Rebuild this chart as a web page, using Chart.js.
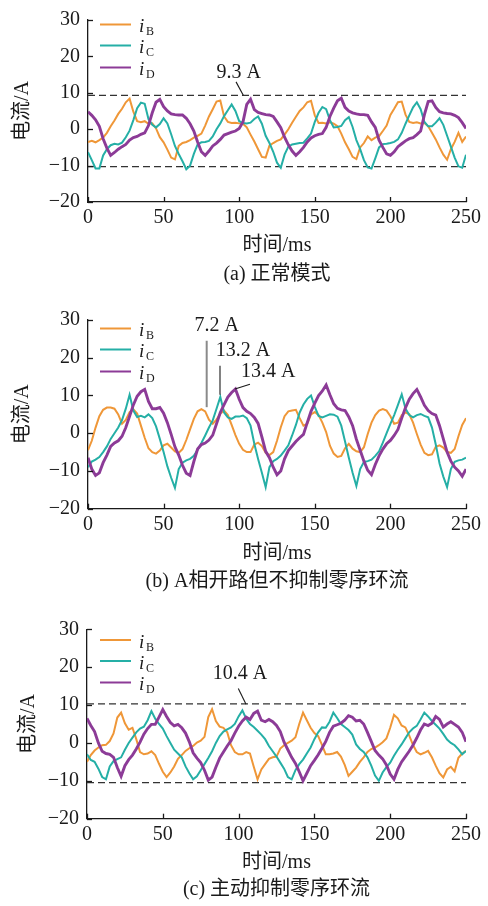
<!DOCTYPE html>
<html><head><meta charset="utf-8">
<script src="https://cdn.jsdelivr.net/npm/chart.js@4.4.1/dist/chart.umd.min.js"></script>
<style>
html,body{margin:0;padding:0;background:#fff;}
#wrap{position:relative;width:488px;height:906px;overflow:hidden;background:#fff;}
.pan{position:absolute;left:0;width:488px;}
canvas{display:block;}
</style></head><body>
<div id="wrap">
<div class="pan" style="top:0;height:300px"><canvas id="ca" width="488" height="300"></canvas></div>
<div class="pan" style="top:300px;height:300px"><canvas id="cb" width="488" height="300"></canvas></div>
<div class="pan" style="top:600px;height:306px"><canvas id="cc" width="488" height="306"></canvas></div>
</div>
<script>
// ---- sample times (ms) ----
const timeMs = [
 0,2.5,5,7.5,10,12.5,15,17.5,20,22.5,25,27.5,30,32.5,35,37.5,40,42.5,45,47.5,50,52.5,55,57.5,
 60,62.5,65,67.5,70,72.5,75,77.5,80,82.5,85,87.5,90,92.5,95,97.5,100,102.5,105,107.5,110,112.5,115,117.5,
 120,122.5,125,127.5,130,132.5,135,137.5,140,142.5,145,147.5,150,152.5,155,157.5,160,162.5,165,167.5,170,172.5,175,177.5,
 180,182.5,185,187.5,190,192.5,195,197.5,200,202.5,205,207.5,210,212.5,215,217.5,220,222.5,225,227.5,230,232.5,235,237.5,
 240,242.5,245,247.5,250];
const xTicks = [0,50,100,150,200,250];
const yTicks = [-20,-10,0,10,20,30];
const seriesLabels = ['B','C','D'];

// ---- (a) normal mode ----
const iB_a = [
 -3.5,-3.2,-3.6,-3.0,-2.3,-1.0,0.8,2.4,4.2,5.6,7.4,8.4,4.8,2.2,1.9,2.2,1.5,1.6,0.2,-2.2,-3.6,-5.6,-7.8,-8.3,
 -4.6,-3.8,-3.5,-3.0,-2.3,-1.8,-1.2,1.0,3.5,5.5,7.6,7.9,3.5,2.0,1.7,1.8,1.6,1.5,0.5,-1.5,-3.4,-5.5,-7.6,-7.8,
 -4.5,-3.8,-3.2,-2.8,-1.5,0.0,1.8,3.4,5.0,6.0,7.4,7.8,3.8,1.7,1.8,1.6,1.9,1.5,0.8,-1.2,-3.6,-5.5,-7.6,-8.2,
 -5.0,-3.8,-2.0,-3.0,-2.3,-1.9,-0.5,1.0,3.9,5.6,7.4,7.6,4.0,2.0,1.7,1.9,1.6,1.7,0.8,-1.0,-2.8,-5.0,-7.0,-8.4,
 -5.5,-3.5,-1.0,-3.5,-2.0];
const iC_a = [
 -6.3,-8.5,-10.8,-10.8,-7.2,-5.5,-4.4,-4.0,-4.2,-3.7,-2.2,-0.4,2.5,5.8,7.3,7.0,2.8,1.2,0.5,1.4,3.0,1.6,-1.4,-4.6,
 -6.8,-8.8,-11.0,-10.0,-6.8,-4.2,-3.6,-3.5,-3.2,-2.0,0.0,1.6,3.6,5.2,6.8,5.0,2.2,1.7,1.6,1.8,2.8,3.5,1.5,-1.8,
 -3.8,-6.2,-9.2,-10.6,-7.0,-4.8,-4.2,-4.0,-3.8,-3.7,-2.5,-1.2,2.0,4.5,6.1,5.5,2.5,0.5,0.6,0.9,2.5,3.3,0.6,-3.0,
 -5.5,-8.5,-10.5,-10.8,-8.0,-5.0,-4.1,-4.0,-3.8,-3.5,-2.8,-1.0,1.5,3.8,6.0,7.4,5.5,2.0,0.8,0.8,1.8,3.0,1.2,-1.8,
 -4.8,-7.8,-10.2,-10.6,-7.0];
const iD_a = [
 4.8,3.8,2.6,0.8,-2.6,-5.2,-7.2,-6.4,-5.5,-4.8,-4.2,-3.0,-2.3,-2.0,-1.4,-1.0,1.0,4.5,7.4,8.2,6.2,5.0,4.2,4.0,
 3.9,3.9,3.0,1.5,-0.5,-3.5,-6.2,-7.2,-6.0,-4.6,-3.8,-2.8,-1.6,-1.2,-0.8,-0.5,0.2,2.0,6.8,8.2,5.4,4.6,4.3,4.0,
 3.9,3.5,2.0,0.4,-2.2,-4.3,-6.0,-7.2,-6.2,-5.0,-3.5,-2.4,-1.8,-1.4,-1.2,0.5,3.5,5.8,7.8,8.5,6.0,5.0,4.5,4.2,
 4.0,4.0,3.8,2.0,0.5,-3.0,-5.0,-6.8,-7.2,-6.2,-4.8,-4.0,-3.2,-2.6,-2.3,-1.5,-0.5,4.0,7.6,7.8,6.0,4.8,4.5,4.3,
 4.2,3.8,3.2,1.8,0.2];

// ---- (b) A-phase open, no zero-sequence suppression ----
const iB_b = [
 -4.5,-2.0,1.5,4.5,6.2,6.8,6.8,6.5,5.0,2.5,3.5,5.6,6.3,5.2,2.0,-1.2,-4.0,-5.0,-5.4,-4.6,-3.2,-2.8,-3.8,-4.8,
 -5.2,-4.2,-1.8,1.0,3.8,5.8,6.4,5.8,3.6,2.5,3.6,5.2,6.0,4.8,2.2,-0.5,-2.8,-4.4,-5.0,-5.0,-3.0,-2.5,-3.4,-5.2,
 -5.8,-5.0,-2.0,1.6,4.5,5.8,6.0,6.2,4.0,2.0,2.5,5.0,5.6,4.8,2.8,0.3,-3.3,-5.4,-6.3,-6.0,-4.0,-2.8,-4.1,-4.8,
 -5.0,-3.7,-0.2,2.8,4.8,6.0,6.4,6.0,4.5,2.5,2.8,4.8,5.5,5.0,2.8,-0.2,-3.0,-5.2,-5.8,-5.6,-3.6,-3.2,-3.8,-5.0,
 -5.2,-4.2,-0.8,2.2,4.0];
const iC_b = [
 -9.0,-7.5,-7.0,-6.3,-5.0,-3.5,-1.5,0.0,1.5,3.5,6.5,10.2,6.0,4.3,4.6,4.2,5.0,4.0,1.8,-1.5,-5.0,-8.8,-11.8,-14.5,
 -9.5,-7.8,-7.2,-6.8,-6.0,-4.4,-2.6,-0.6,1.5,3.4,6.5,9.6,5.5,4.2,3.8,4.4,4.4,4.7,4.0,2.0,-2.8,-6.8,-10.5,-14.3,
 -9.0,-7.4,-6.8,-5.9,-4.6,-3.2,-0.6,2.2,5.5,7.6,9.1,10.0,7.0,4.6,4.2,4.6,5.0,4.9,4.4,2.0,-2.2,-6.5,-10.5,-14.0,
 -9.5,-7.6,-7.4,-7.0,-6.0,-4.8,-2.5,0.0,2.5,4.8,7.5,10.3,6.5,4.8,4.2,4.8,5.1,4.6,4.2,1.5,-3.0,-8.0,-11.5,-14.3,
 -9.5,-7.6,-7.2,-7.0,-6.5];
const iD_b = [
 -6.5,-9.5,-11.2,-10.5,-7.8,-5.8,-3.5,-2.6,-2.0,-0.8,1.5,4.5,7.5,9.8,11.0,11.6,8.4,6.5,6.5,6.8,5.3,2.8,-0.3,-3.6,
 -5.8,-8.5,-10.6,-11.2,-7.5,-4.2,-3.0,-2.6,-1.8,-0.5,2.5,5.5,7.6,9.6,10.8,11.7,9.0,6.8,5.8,5.2,4.2,2.6,-1.0,-4.8,
 -6.5,-9.0,-11.0,-10.0,-6.8,-4.6,-3.4,-2.2,-1.2,-0.3,2.8,5.8,8.0,10.0,11.2,12.8,10.2,7.8,6.6,6.2,6.0,4.3,2.0,-1.6,
 -4.5,-7.4,-9.8,-11.0,-8.3,-6.0,-4.2,-2.8,-1.9,-0.6,1.0,4.0,6.8,9.0,10.5,11.6,9.6,7.4,6.0,5.2,4.8,2.0,-1.5,-5.0,
 -7.4,-9.0,-10.0,-11.4,-9.5];

// ---- (c) active zero-sequence suppression ----
const iB_c = [
 -5.0,-3.2,-2.0,-1.2,-0.6,-0.5,0.5,2.5,6.7,8.0,5.2,3.5,4.0,1.0,-2.4,-3.0,-2.8,-2.2,-3.2,-5.5,-7.6,-9.0,-7.8,-6.2,
 -4.2,-3.2,-2.1,-1.4,-0.8,0.1,0.6,1.6,6.8,8.9,5.8,4.3,4.0,2.8,-0.6,-2.4,-3.0,-3.0,-2.4,-2.8,-6.3,-9.6,-7.0,-5.6,
 -4.2,-3.8,-3.6,-1.5,-0.6,0.0,0.6,1.5,5.0,8.0,6.0,4.0,2.6,1.8,-0.5,-3.0,-3.0,-2.8,-2.4,-3.6,-5.8,-8.7,-7.6,-6.5,
 -5.0,-3.8,-2.4,-1.6,-1.2,-0.6,0.2,1.2,4.0,7.4,6.5,4.6,4.1,2.0,-0.5,-2.4,-3.0,-2.6,-2.1,-3.8,-6.0,-8.0,-9.1,-7.0,
 -6.3,-7.5,-3.9,-2.8,-2.1];
const iC_c = [
 -3.0,-4.5,-5.0,-6.8,-9.0,-9.6,-6.2,-4.8,-4.3,-3.8,-1.8,0.0,1.4,2.8,3.8,4.3,6.0,8.4,6.4,5.0,3.8,1.8,0.0,-1.8,
 -2.8,-3.8,-6.2,-8.0,-9.6,-8.8,-7.2,-5.6,-4.0,-2.2,0.0,1.8,3.0,3.6,4.1,5.0,7.0,8.6,6.4,5.0,4.2,3.2,2.2,1.0,
 -0.8,-2.2,-3.6,-5.2,-6.8,-9.0,-9.6,-7.2,-5.6,-4.4,-2.8,-1.2,1.0,2.8,4.1,4.0,5.6,8.0,6.6,5.0,4.2,3.4,2.2,-0.4,
 -1.6,-2.4,-3.8,-6.0,-8.6,-10.0,-7.8,-6.4,-5.2,-3.4,-1.8,-0.4,1.2,2.8,3.8,4.5,6.2,8.0,7.0,5.8,4.8,3.8,2.4,0.9,
 0.0,-0.6,-1.7,-3.0,-2.1];
const iD_c = [
 6.5,4.6,3.0,0.0,-2.2,-2.8,-3.0,-3.8,-6.5,-8.8,-6.0,-4.4,-3.2,-1.6,0.2,2.3,3.8,4.9,4.9,6.8,8.8,7.0,5.4,4.5,
 4.9,4.0,2.6,0.3,-2.6,-4.0,-5.2,-7.2,-9.8,-9.0,-6.4,-4.0,-2.4,-0.8,0.6,2.6,4.4,5.8,6.8,6.2,7.8,8.4,6.0,5.6,
 6.2,5.6,4.6,3.0,0.2,-1.8,-3.8,-5.4,-7.6,-10.0,-8.0,-6.0,-4.6,-3.1,-1.4,0.4,2.8,4.4,4.8,5.2,6.0,7.2,6.8,5.8,
 6.0,5.0,2.8,0.4,-2.0,-3.2,-4.2,-5.8,-8.2,-9.6,-7.0,-5.0,-3.6,-2.2,-0.6,1.3,3.4,5.0,4.6,5.2,7.0,6.2,4.2,5.0,
 5.6,4.9,4.2,2.8,0.3];

// reference (dashed) levels
const refA = [9.3, -10.3];
const refB = [];
const refC = [10.3, -10.5];

const COLORS = ['#EF9738', '#25AFA6', '#8C3B97'];
const WIDTHS = [2.0, 2.0, 2.9];
const SERIF = '"Liberation Serif","Times New Roman",serif';
const MIX = '"Liberation Serif","Noto Sans CJK SC",serif';
const INK = '#1a1a1a';

function pts(arr){ return timeMs.map((t,i)=>({x:t, y:arr[i]})); }

function makePanel(id, series, p){
  const deco = {
    id:'deco',
    beforeDatasetsDraw(chart){
      const {ctx, chartArea:a, scales:{y}} = chart;
      ctx.save();
      ctx.strokeStyle='#333'; ctx.lineWidth=1.3; ctx.setLineDash([7,4]);
      p.refs.forEach(v=>{
        const py = y.getPixelForValue(v);
        ctx.beginPath(); ctx.moveTo(a.left, py); ctx.lineTo(a.right, py); ctx.stroke();
      });
      ctx.restore();
    },
    afterDraw(chart){
      const {ctx, chartArea:a, scales:{x,y}} = chart;
      ctx.save();
      // inward tick marks
      ctx.strokeStyle=INK; ctx.lineWidth=1.3; ctx.setLineDash([]);
      yTicks.forEach(v=>{const py=Math.round(y.getPixelForValue(v))+0.5; ctx.beginPath(); ctx.moveTo(a.left,py); ctx.lineTo(a.left+5,py); ctx.stroke();});
      xTicks.forEach(v=>{const px=Math.round(x.getPixelForValue(v))+0.5; ctx.beginPath(); ctx.moveTo(px,a.bottom); ctx.lineTo(px,a.bottom-5); ctx.stroke();});
      // titles
      ctx.fillStyle=INK; ctx.textAlign='center'; ctx.textBaseline='middle';
      ctx.font='20px '+MIX;
      ctx.save(); ctx.translate(p.yTitleX, (a.top+a.bottom)/2); ctx.rotate(-Math.PI/2);
      ctx.fillText('电流/A',0,0); ctx.restore();
      ctx.fillText('时间/ms', (a.left+a.right)/2, p.xTitleY);
      ctx.font='20px '+MIX;
      ctx.fillText(p.caption, (a.left+a.right)/2, p.capY);
      // legend
      p.legendY.forEach((ly,i)=>{
        ctx.strokeStyle=COLORS[i]; ctx.lineWidth=2;
        ctx.beginPath(); ctx.moveTo(100,ly); ctx.lineTo(131,ly); ctx.stroke();
        ctx.fillStyle=INK; ctx.textAlign='left'; ctx.textBaseline='alphabetic';
        ctx.font='italic 19px '+SERIF; ctx.fillText('i',139,ly+7.5);
        ctx.font='12px '+SERIF; ctx.fillText(seriesLabels[i],146,ly+10.5);
      });
      // annotations
      ctx.textAlign='center'; ctx.textBaseline='middle'; ctx.font='20px '+SERIF;
      p.notes.forEach(n=>{
        ctx.fillStyle=INK;
        ctx.fillText(n.text, x.getPixelForValue(n.tx), y.getPixelForValue(n.ty));
        ctx.strokeStyle=n.color||INK; ctx.lineWidth=n.w||1.1;
        ctx.beginPath();
        ctx.moveTo(x.getPixelForValue(n.l[0]), y.getPixelForValue(n.l[1]));
        ctx.lineTo(x.getPixelForValue(n.l[2]), y.getPixelForValue(n.l[3]));
        ctx.stroke();
      });
      ctx.restore();
    }
  };
  const order=[2,1,0];
  new Chart(document.getElementById(id), {
    type:'line',
    data:{datasets: series.map((s,i)=>({
      label:'i'+seriesLabels[i], data:pts(s), borderColor:COLORS[i], borderWidth:WIDTHS[i],
      pointRadius:0, tension:0, fill:false, order:order[i]
    }))},
    options:{
      responsive:false, animation:false, events:[],
      layout:{padding:{left:0,right:p.padRight,top:p.top,bottom:0}},
      plugins:{legend:{display:false}, tooltip:{enabled:false}},
      scales:{
        x:{type:'linear', min:0, max:250,
           afterBuildTicks(s){ s.ticks = xTicks.map(v=>({value:v})); },
           afterFit(s){ s.height = p.xh; },
           grid:{display:false, drawTicks:false},
           border:{display:true, color:INK, width:1.3},
           ticks:{padding:4, color:INK, font:{family:SERIF,size:20}, maxRotation:0, autoSkip:false}},
        y:{min:-20, max:30,
           afterBuildTicks(s){ s.ticks = yTicks.map(v=>({value:v})); },
           afterFit(s){ s.width = p.yw; },
           grid:{display:false, drawTicks:false},
           border:{display:true, color:INK, width:1.3},
           ticks:{padding:8, color:INK, font:{family:SERIF,size:20},
             callback:v=>String(v).replace('-', '\u2212')}}
      }
    },
    plugins:[deco]
  });
}

makePanel('ca', [iB_a,iC_a,iD_a], {
  top:14, xh:98, yw:88, padRight:22, refs:refA,
  yTitleX:23, xTitleY:246, capY:275, caption:'(a) 正常模式',
  legendY:[24.5,45.5,67.5],
  notes:[{text:'9.3 A', tx:99.7, ty:15.4, l:[97.9,13.0,102.7,9.3]}]
});
makePanel('cb', [iB_b,iC_b,iD_b], {
  top:19.3, xh:91.3, yw:88, padRight:22, refs:refB,
  yTitleX:23, xTitleY:254, capY:281.7, caption:'(b) A相开路但不抑制零序环流',
  legendY:[28.5,49.5,71.5],
  notes:[
    {text:'7.2 A', tx:85.1, ty:28.4, l:[78.5,24.5,78.5,6.9], color:'#8a8a8a', w:2},
    {text:'13.2 A', tx:102.5, ty:21.8, l:[87.3,17.9,87.3,10.2]},
    {text:'13.4 A', tx:119.2, ty:16.4, l:[107.1,13.0,97.2,11.7]}
  ]
});
makePanel('cc', [iB_c,iC_c,iD_c], {
  top:29.3, xh:87.3, yw:87, padRight:22, refs:refC,
  yTitleX:29, xTitleY:262.3, capY:290, caption:'(c) 主动抑制零序环流',
  legendY:[40,61,82.5],
  notes:[{text:'10.4 A', tx:100.9, ty:18.3, l:[99.8,14.4,104.9,10.2]}]
});
</script>
</body></html>
